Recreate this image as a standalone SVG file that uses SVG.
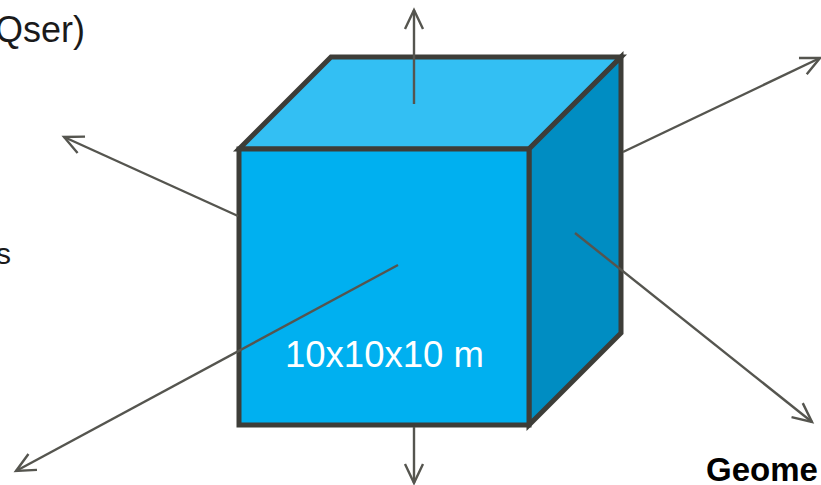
<svg xmlns="http://www.w3.org/2000/svg" width="821" height="485" viewBox="0 0 821 485">
<style>
.face{stroke:#3d3d38;stroke-width:5;stroke-linejoin:miter}
.arr{stroke:#55554f;stroke-width:2.4;fill:none;marker-end:url(#ah)}
.lbl{font-family:"Liberation Sans",Arial,sans-serif}
</style>
<defs>
<marker id="ah" markerUnits="userSpaceOnUse" viewBox="-22 -12 26 24" markerWidth="26" markerHeight="24" refX="0" refY="0" orient="auto">
<path d="M-19,-9 L0,0 L-19,9" fill="none" stroke="#55554f" stroke-width="2.4"/>
</marker>
</defs>
<rect width="821" height="485" fill="#ffffff"/>
<g id="cube">
<polygon class="face" points="239,149 331,57 621,57 529,149" fill="#33bff3"/>
<polygon class="face" points="529,149 621,57 621,333 529,425" fill="#008dc2"/>
<rect class="face" x="239" y="149" width="290" height="276" fill="#00b0f0"/>
<text class="lbl" x="285" y="367" font-size="36.5" fill="#ffffff">10x10x10 m</text>
</g>
<g id="connectors">
<line class="arr" x1="414" y1="104" x2="414" y2="10"/>
<line class="arr" x1="414" y1="427" x2="414" y2="483"/>
<line class="arr" x1="238" y1="216" x2="64" y2="137"/>
<line class="arr" x1="623" y1="152" x2="820" y2="58"/>
<line class="arr" x1="575" y1="233" x2="812" y2="422"/>
<line class="arr" x1="398" y1="265" x2="16" y2="471"/>
</g>
<g id="label-top">
<text class="lbl" x="85" y="42" font-size="36" fill="#1a1a1a" text-anchor="end">Qser)</text>
</g>
<g id="label-left">
<text class="lbl" x="11" y="264" font-size="30" fill="#1a1a1a" text-anchor="end">s</text>
</g>
<g id="label-bottom">
<text class="lbl" x="706" y="481" font-size="33" font-weight="bold" fill="#000000">Geome</text>
</g>
</svg>
